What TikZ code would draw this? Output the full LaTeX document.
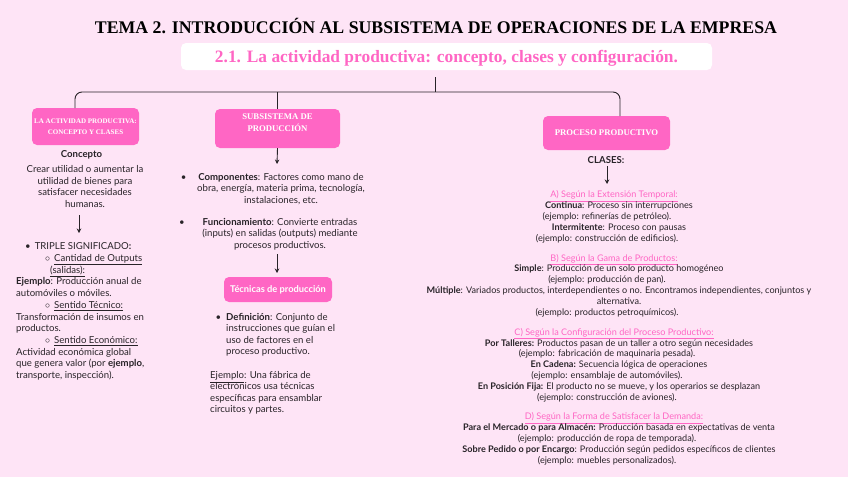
\documentclass[tikz,border=0pt]{standalone}
\usepackage{fontspec}
\setmainfont{Lato}
\newfontfamily\headfont{Liberation Serif}
\newfontfamily\boxfont{Liberation Serif}
\usetikzlibrary{arrows.meta}
\definecolor{pinkbg}{RGB}{254,228,246}
\definecolor{hotpink}{RGB}{255,102,196}
\definecolor{ink}{RGB}{40,35,40}
\newcommand{\clshead}[1]{\hspace*{-10pt}\textcolor{hotpink}{\underline{#1}}}
\newcommand{\clsex}[1]{\hspace*{-24pt}#1}
\newcommand{\subbul}{$\circ$\hspace{4pt}}
\begin{document}
\begin{tikzpicture}[x=1pt, y=-1pt,
    catbox/.style={fill=hotpink, rounded corners=5pt, text=white, align=center, inner sep=0pt},
    boxlbl/.style={text=white, align=center, inner sep=0pt, font=\boxfont\bfseries\fontsize{8.7}{12}\selectfont},
    txt/.style={text=ink, inner sep=0pt, font=\fontsize{9.6}{11.6}\selectfont},
    cls/.style={text=ink, inner sep=0pt, align=center, anchor=base, font=\fontsize{9.1}{10.9}\selectfont},
    conn/.style={draw=ink, line width=0.9pt},
    arr/.style={conn, -{Stealth[length=4.5pt, width=4.5pt]}}]
    \fill[pinkbg] (0,0) rectangle (848,477);
    \useasboundingbox (0,0) rectangle (848,477);

    \node[anchor=base, inner sep=0pt] (title) at (436,33)
        {\resizebox{682pt}{!}{\headfont\bfseries TEMA 2. INTRODUCCIÓN AL SUBSISTEMA DE OPERACIONES DE LA EMPRESA}};
    \node[fill=white, rounded corners=5pt, minimum width=531pt, minimum height=27pt, inner sep=0pt] (subt) at (446.5,56.5) {};
    \node[anchor=base, inner sep=0pt, text=hotpink] (subtl) at (446.5,62)
        {\resizebox{463pt}{!}{\headfont\bfseries 2.1. La actividad productiva: concepto, clases y configuración.}};

    \node[catbox, minimum width=107pt, minimum height=37pt, font=\boxfont\bfseries\fontsize{7}{11}\selectfont] (lbox) at (85.5,126.5)
        {LA ACTIVIDAD PRODUCTIVA:\\CONCEPTO Y CLASES};
    \node[catbox, minimum width=125pt, minimum height=39pt] (sbox) at (277.5,128.5) {};
    \node[boxlbl] (sboxl) at (277.5,123) {SUBSISTEMA DE\\PRODUCCIÓN};
    \node[catbox, minimum width=127pt, minimum height=34pt, font=\boxfont\bfseries\fontsize{8.7}{12}\selectfont] (pbox) at (606.5,133)
        {PROCESO PRODUCTIVO};
    \node[catbox, minimum width=108pt, minimum height=25pt, font=\bfseries\fontsize{9.3}{10}\selectfont] (tbox) at (278,289.5)
        {Técnicas de producción};

    \coordinate (stem) at (435,77);
    \coordinate (hub)  at (435,92);
    \coordinate (ltap) at (75,108);
    \coordinate (rtap) at (620,116);
    \draw[conn] (stem) -- (hub);
    \draw[conn, rounded corners=7pt] (ltap) |- (hub) -| (rtap);
    \draw[conn] (sbox.north) -- (sbox.north |- hub);

    \node[txt, anchor=base, font=\bfseries\fontsize{9.6}{11.6}\selectfont] (conc) at (81.5,157) {Concepto};
    \node[txt, anchor=base, align=center] (cdef) at (85,207.5)
        {Crear utilidad o aumentar la\\utilidad de bienes para\\satisfacer necesidades\\humanas.};
    \node[txt, anchor=base west, align=left, font=\fontsize{9.6}{11.7}\selectfont] (trip) at (16,378.5)
        {\hspace*{9pt}\textbullet\hspace{4pt}TRIPLE SIGNIFICADO\textbf{:}\\
         \hspace*{29pt}\subbul\underline{Cantidad de Outputs}\\
         \hspace*{34pt}\underline{(salidas):}\\
         \textbf{Ejemplo}: Producción anual de\\
         automóviles o móviles.\\
         \hspace*{29pt}\subbul\underline{Sentido Técnico:}\\
         Transformación de insumos en\\
         productos.\\
         \hspace*{29pt}\subbul\underline{Sentido Económico:}\\
         Actividad económica global\\
         que genera valor (por \textbf{ejemplo},\\
         transporte, inspección).};

    \node[txt, anchor=base, align=center] (comp) at (281,203.5)
        {\llap{\textbullet\hspace{12pt}}\textbf{Componentes}: Factores como mano de\\obra, energía, materia prima, tecnología,\\instalaciones, etc.};
    \node[txt, anchor=base, align=center] (func) at (280,248.5)
        {\llap{\textbullet\hspace{18pt}}\textbf{Funcionamiento}: Convierte entradas\\(inputs) en salidas (outputs) mediante\\procesos productivos.};
    \node[txt, anchor=base west, align=left, font=\fontsize{9.6}{11.3}\selectfont] (defi) at (226,354.5)
        {\llap{\textbullet\hspace{5pt}}\textbf{Definición}: Conjunto de\\instrucciones que guían el\\uso de factores en el\\proceso productivo.};
    \node[txt, anchor=base west, align=left, font=\fontsize{9.6}{11.3}\selectfont] (ejem) at (210,412.5)
        {\underline{Ejemplo}: Una fábrica de\\electrónicos usa técnicas\\específicas para ensamblar\\circuitos y partes.};

    \node[txt, anchor=base, font=\bfseries\fontsize{9.6}{11}\selectfont] (clases) at (606,163.5) {CLASES:};
    \node[cls] (secA) at (619,241.5)
        {\clshead{A) Según la Extensión Temporal:}\\
         \textbf{Continua}: Proceso sin interrupciones\\
         \clsex{(ejemplo: refinerías de petróleo).}\\
         \textbf{Intermitente}: Proceso con pausas\\
         \clsex{(ejemplo: construcción de edificios).}};
    \node[cls] (secB) at (619,315.5)
        {\clshead{B) Según la Gama de Productos:}\\
         \textbf{Simple}: Producción de un solo producto homogéneo\\
         \clsex{(ejemplo: producción de pan).}\\
         \textbf{Múltiple}: Variados productos, interdependientes o no. Encontramos independientes, conjuntos y\\
         alternativa.\\
         \clsex{(ejemplo: productos petroquímicos).}};
    \node[cls] (secC) at (619,400.5)
        {\clshead{C) Según la Configuración del Proceso Productivo:}\\
         \textbf{Por Talleres:} Productos pasan de un taller a otro según necesidades\\
         \clsex{(ejemplo: fabricación de maquinaria pesada).}\\
         \textbf{En Cadena:} Secuencia lógica de operaciones\\
         \clsex{(ejemplo: ensamblaje de automóviles).}\\
         \textbf{En Posición Fija:} El producto no se mueve, y los operarios se desplazan\\
         \clsex{(ejemplo: construcción de aviones).}};
    \node[cls] (secD) at (619,463.5)
        {\clshead{D) Según la Forma de Satisfacer la Demanda:}\\
         \textbf{Para el Mercado o para Almacén:} Producción basada en expectativas de venta\\
         \clsex{(ejemplo: producción de ropa de temporada).}\\
         \textbf{Sobre Pedido o por Encargo}: Producción según pedidos específicos de clientes\\
         \clsex{(ejemplo: muebles personalizados).}};

    \coordinate (la) at (79,215);  \coordinate (lb) at (79,233);
    \coordinate (ma) at (277,254); \coordinate (mb) at (277,273);
    \coordinate (ra) at (607,166); \coordinate (rb) at (607,184);
    \coordinate (sb) at (277,164);
    \foreach \a/\b in {la/lb, sbox.south/sb, ma/mb, ra/rb}
        \draw[arr] (\a) -- (\b);
\end{tikzpicture}
\end{document}
